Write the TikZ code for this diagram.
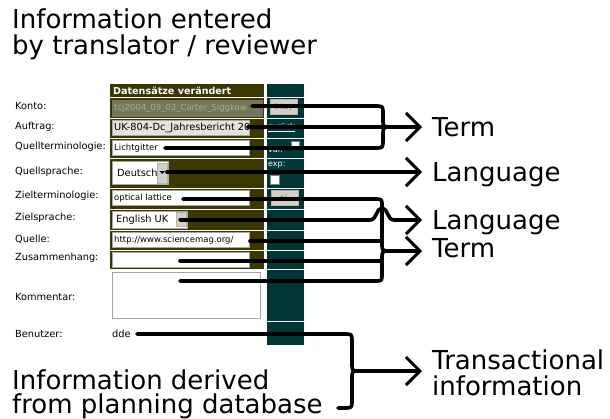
\documentclass[tikz,border=0pt]{standalone}
\usepackage{fontspec}
\setmainfont{DejaVu Sans}
\usetikzlibrary{arrows.meta}
\definecolor{formolive}{HTML}{3A3700}
\definecolor{formteal}{HTML}{003636}
\definecolor{btngray}{HTML}{D4D0C8}
\definecolor{blurbg}{HTML}{75775A}
\definecolor{blurtx}{HTML}{A9B08E}
\definecolor{fieldgray}{HTML}{E6E3DC}
\begin{document}
\begin{tikzpicture}[x=1pt,y=-1pt,
  big/.style={font=\fontsize{26}{27}\selectfont, inner sep=0pt, anchor=base west},
  lbl/.style={font=\fontsize{9.8}{11}\selectfont, inner sep=0pt, anchor=west},
  ftxt/.style={font=\fontsize{8.5}{10}\selectfont, inner sep=0pt, anchor=west},
  wtxt/.style={font=\fontsize{8}{9}\selectfont, inner sep=0pt, anchor=west, text=white},
  field/.style={draw=gray!70, line width=0.8pt, fill=white},
  btn/.style={draw=gray!60, line width=0.6pt, fill=btngray},
  conn/.style={line width=3.6pt, line cap=round, line join=round},
  arr/.style={-{Straight Barb[length=14pt,width=28pt,line width=3pt]}}
]
\useasboundingbox[fill=white] (0,0) rectangle (610,418);

% ---- olive cells
\foreach \a/\b in {84/97,98/118,119/138,139/158,159/188,189/209,210/230,231/250,251/269}
  \fill[formolive] (110,\a) rectangle (264,\b);
% ---- teal cells
\foreach \a/\b in {84/97,98/118,119/138,139/158,159/188,189/209,210/230,231/250,251/269,270/321,322/345}
  \fill[formteal] (267,\a) rectangle (304,\b);

% header
\node[font=\bfseries\fontsize{9.6}{11}\selectfont, text=white, inner sep=0pt, anchor=west] (hdr) at (113,90.5) {Datensätze verändert};

% ---- labels
\node[lbl] (lKonto) at (15,106) {Konto:};
\node[lbl] (lAuftrag) at (15,127) {Auftrag:};
\node[lbl] (lQt) at (15,147) {Quellterminologie:};
\node[lbl] (lQs) at (15,172) {Quellsprache:};
\node[lbl] (lZt) at (15,196) {Zielterminologie:};
\node[lbl] (lZs) at (15,218) {Zielsprache:};
\node[lbl] (lQuelle) at (15,239) {Quelle:};
\node[lbl] (lZus) at (15,258) {Zusammenhang:};
\node[lbl] (lKomm) at (15,297) {Kommentar:};
\node[lbl] (lBen) at (15,334) {Benutzer:};

% ---- fields
\fill[blurbg] (112,99.5) rectangle (263,116.5);
\begin{scope}
 \clip (112,99.5) rectangle (263,116.5);
 \node[ftxt, text=blurtx] (fKonto) at (114,108) {tcj2004\_09\_03\_Carter\_Siggkow};
\end{scope}

\draw[field, fill=fieldgray] (112,120.5) rectangle (249,135.5);
\begin{scope}
 \clip (112,120.5) rectangle (249,135.5);
 \node[lbl] (fAuftrag) at (114,128) {UK-804-Dc\_Jahresbericht 2005};
\end{scope}

\draw[field] (112,140.5) rectangle (249,155.5);
\node[ftxt] (fQt) at (114,148) {Lichtgitter};

\draw[field] (112,161.5) rectangle (168,184.5);
\node[lbl] (fQs) at (117,173) {Deutsch};
\draw[btn] (157.5,163) rectangle (167,183);
\fill (159.5,171) -- (165,171) -- (162.25,174) -- cycle;

\draw[field] (112,190.5) rectangle (249,205.5);
\node[ftxt] (fZt) at (114,198) {optical lattice};

\draw[field] (112,211) rectangle (187,228);
\node[lbl] (fZs) at (116,219.5) {English UK};
\draw[btn] (176.5,212.5) rectangle (186,226.5);
\fill (178.5,218) -- (184,218) -- (181.25,221) -- cycle;

\draw[field] (112,232.5) rectangle (249,247.5);
\begin{scope}
 \clip (112,232.5) rectangle (249,247.5);
 \node[ftxt] (fQuelle) at (114,240) {http://www.sciencemag.org/};
\end{scope}

\draw[field] (112,252.5) rectangle (249,267.5);
\draw[field] (112,272) rectangle (260,318);
\node[lbl] (fBen) at (112,334) {dde};

% ---- teal column widgets
\draw[btn] (270,99.5) rectangle (297,114);
\node[font=\fontsize{7.5}{9}\selectfont, text=gray, inner sep=0pt] (okay) at (283.5,107) {Okay};
\node[wtxt] (zur) at (268,128) {\underline{zurück}};
\node[wtxt] (var) at (268,150) {var.};
\draw[fill=white, draw=gray] (291,141.5) rectangle (299,149.5);
\node[wtxt] (exp) at (268,165) {exp:};
\draw[fill=white, draw=gray] (270.5,175.5) rectangle (279,184);
\draw[btn] (271,190.5) rectangle (298,205);
\node[font=\fontsize{7}{8}\selectfont, text=gray, inner sep=0pt] (pm) at (284.5,197.5) {+|-};

% ---- start points
\coordinate (sKonto) at (252,106);
\coordinate (sAuftrag) at (248,127);
\coordinate (sQt) at (165,148);
\coordinate (sQs) at (167,172);
\coordinate (sZt) at (183,199);
\coordinate (sZs) at (180,220);
\coordinate (sQuelle) at (250,241);
\coordinate (sZus) at (180,261);
\coordinate (sKomm) at (180,281);
\coordinate (sBen) at (137,334);
\coordinate (sDb) at (338,408);

% ---- arrow ends
\coordinate (aTerm1) at (422,127);
\coordinate (aLang1) at (422,172);
\coordinate (aLang2) at (422,220);
\coordinate (aTerm2) at (422,251);
\coordinate (aTrans) at (422,371);

% ---- brace 1 (Term)
\draw[conn] (sKonto) -- (375,106) .. controls (383,106) .. (383,114) -- (383,119) .. controls (383,127) .. (391,127);
\draw[conn] (sQt) -- (375,148) .. controls (383,148) .. (383,140) -- (383,135) .. controls (383,127) .. (391,127);
\draw[conn,arr] (sAuftrag) -- (aTerm1);

% ---- Language 1
\draw[conn,arr] (sQs) -- (aLang1);

% ---- brace 2 (Term)
\draw[conn] (sZt) -- (375,199) .. controls (382,199) .. (382,206) -- (382,243) .. controls (382,251) .. (390,251);
\draw[conn] (sKomm) -- (375,281) .. controls (382,281) .. (382,274) -- (382,259) .. controls (382,251) .. (390,251);
\draw[conn] (sQuelle) -- (382,241);
\draw[conn] (sZus) -- (382,261);
\draw[conn,arr] (390,251) -- (aTerm2);

% ---- Language 2 (hop)
\draw[conn,arr] (sZs) -- (370,220) .. controls (377,220) and (376,208) .. (382,208) .. controls (388,208) and (387,220) .. (394,220) -- (aLang2);

% ---- brace 3 (Transactional)
\draw[conn] (sBen) -- (344,334) .. controls (352,334) .. (352,342) -- (352,363) .. controls (352,371) .. (359,371);
\draw[conn] (sDb) -- (344,408) .. controls (352,408) .. (352,400) -- (352,379) .. controls (352,371) .. (359,371);
\draw[conn,arr] (359,371) -- (aTrans);

% ---- big texts
\node[big] (t1a) at (12,28) {Information entered};
\node[big] (t1b) at (12,54) {by translator / reviewer};
\node[big] (t2a) at (12,389) {Information derived};
\node[big] (t2b) at (12,413) {from planning database};
\node[big] (rTerm1) at (432,136) {Term};
\node[big] (rLang1) at (432,181) {Language};
\node[big] (rLang2) at (432,229) {Language};
\node[big] (rTerm2) at (432,257) {Term};
\node[big] (rTr1) at (432,369) {Transactional};
\node[big] (rTr2) at (432,395) {information};
\end{tikzpicture}
\end{document}
